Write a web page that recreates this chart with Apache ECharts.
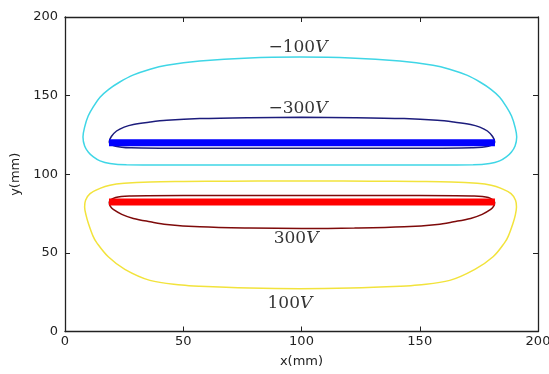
<!DOCTYPE html>
<html>
<head>
<meta charset="utf-8">
<script src="https://cdn.jsdelivr.net/npm/echarts@6/dist/echarts.min.js"></script>
<style>
html,body{margin:0;padding:0;background:#fff;overflow:hidden;}
#c{width:549px;height:374px;}
</style>
</head>
<body>
<div id="c"></div>
<script>
// Axis ticks
var xTicks = [0, 50, 100, 150, 200];
var yTicks = [0, 50, 100, 150, 200];

// Contour -100 V (cyan)
var contourM100 = [[99.3,105.9],[70,105.9],[40,105.9],[26,106],[19,106.8],[14.8,108.5],[12,111],[9.9,114],[8.3,118],[7.6,123.7],[8.3,130],[9.8,137],[12,143],[14.8,149],[18.5,154],[23,158.5],[28.7,163],[36,166.8],[43,169.3],[57,172],[78,174],[99.3,174.5],[120.6,174],[141.6,172],[155.6,169.3],[162.6,166.8],[169.9,163],[175.6,158.5],[180.1,154],[183.8,149],[186.6,143],[188.8,137],[190.3,130],[191,123.7],[190.3,118],[188.7,114],[186.6,111],[183.8,108.5],[179.6,106.8],[172.6,106],[158.6,105.9],[128.6,105.9],[99.3,105.9]];
// Contour -300 V (navy)
var contourM300 = [[100,116.5],[50,116.5],[28,116.8],[21.4,117.8],[18.7,120.5],[19.6,124],[21.8,127.5],[25,130],[28.9,131.7],[36,133.2],[43,134.3],[57,135.4],[78,136],[100,136.2],[122.4,136],[143.4,135.4],[157.4,134.3],[164.4,133.2],[171.5,131.7],[175.4,130],[178.6,127.5],[180.8,124],[181.7,120.5],[179,117.8],[172,116.8],[150,116.5],[100,116.5]];
// Contour 100 V (yellow)
var contourP100 = [[99.3,95.7],[70,95.6],[50,95.4],[36,95.1],[25,94.2],[19,93],[14.8,91],[10.6,87.7],[8.7,83.5],[8.3,79.2],[8.9,74],[9.9,68.7],[11.9,60.5],[13.4,56.5],[18.3,47.5],[25.3,39.5],[35.9,32.5],[49.3,29.5],[57,28.7],[78,27.6],[99.3,27.2],[120.6,27.6],[141.6,28.7],[149.3,29.5],[162.7,32.5],[173.3,39.5],[181,47.5],[185.9,56.5],[187.4,60.5],[189.4,68.7],[190.4,74],[190.9,79.2],[190.5,83.5],[188.6,87.7],[184.4,91],[180.2,93],[174.3,94.2],[163.3,95.1],[149.3,95.4],[129.3,95.6],[99.3,95.7]];
// Contour 300 V (dark red)
var contourP300 = [[100,86.5],[50,86.5],[28,86.2],[21.4,85.2],[18.7,82],[19.2,79.5],[20.4,77.6],[24,74.5],[28.9,71.9],[36,69.8],[43,68.1],[57,66.6],[78,65.8],[100,65.5],[122.4,65.8],[143.4,66.6],[157.4,68.1],[164.4,69.8],[171.5,71.9],[176.4,74.5],[180,77.6],[181.2,79.5],[181.7,82],[179,85.2],[172,86.2],[150,86.5],[100,86.5]];
// Electrodes
var electrodeNeg = [[18.6,120],[181.8,120]];
var electrodePos = [[18.6,82.4],[181.8,82.4]];
// Contour labels
var labelNums = ['\u2212100', '\u2212300', '300', '100'];
var labelX = [98.5, 98.5, 97.7, 95.1];
var labelY = [180.4, 141.7, 59.2, 17.9];

var labelData = labelNums.map(function (t, i) { return [labelX[i], labelY[i], t]; });

var chart = echarts.init(document.getElementById('c'));
var axisLine = { show: true, onZero: false, lineStyle: { color: '#222', width: 1.3 } };
var tick = { show: true, inside: true, length: 5, lineStyle: { color: '#222', width: 1 } };
var lblFont = { color: '#222', fontFamily: 'DejaVu Sans', fontSize: 13 };

function contour(data, color) {
  return { type: 'line', data: data, smooth: 0.35, symbol: 'none', silent: true,
    lineStyle: { color: color, width: 1.5 }, z: 2 };
}

chart.setOption({
  animation: false,
  grid: { left: 65, right: 11, top: 17, bottom: 42.5, containLabel: false, outerBoundsMode: 'none' },
  xAxis: [
    { type: 'value', min: 0, max: 200, interval: 50, position: 'bottom',
      name: 'x(mm)', nameLocation: 'middle', nameGap: 24,
      nameTextStyle: { color: '#222', fontFamily: 'DejaVu Sans', fontSize: 13 },
      axisLine: axisLine, axisTick: tick, splitLine: { show: false },
      axisLabel: Object.assign({ margin: 4 }, lblFont) },
    { type: 'value', min: 0, max: 200, interval: 50, position: 'top',
      axisLine: axisLine, axisTick: tick, splitLine: { show: false },
      axisLabel: { show: false } }
  ],
  yAxis: [
    { type: 'value', min: 0, max: 200, interval: 50, position: 'left',
      name: 'y(mm)', nameLocation: 'middle', nameGap: 38,
      nameTextStyle: { color: '#222', fontFamily: 'DejaVu Sans', fontSize: 13 },
      axisLine: axisLine, axisTick: tick, splitLine: { show: false },
      axisLabel: Object.assign({ margin: 7 }, lblFont) },
    { type: 'value', min: 0, max: 200, interval: 50, position: 'right',
      axisLine: axisLine, axisTick: tick, splitLine: { show: false },
      axisLabel: { show: false } }
  ],
  series: [
    contour(contourM100, '#3fd6e6'),
    contour(contourM300, '#1c1c7c'),
    contour(contourP100, '#f2e33c'),
    contour(contourP300, '#7e0a0a'),
    { type: 'line', data: electrodeNeg, symbol: 'none', silent: true, z: 3,
      lineStyle: { color: '#0000ff', width: 7, cap: 'butt' } },
    { type: 'line', data: electrodePos, symbol: 'none', silent: true, z: 3,
      lineStyle: { color: '#ff0000', width: 7, cap: 'butt' } },
    { type: 'scatter', data: labelData, symbolSize: 0, silent: true, z: 4,
      label: { show: true, position: 'inside',
        formatter: function (p) { return '{n|' + p.value[2] + '}{v|V}'; },
        rich: {
          n: { fontFamily: 'DejaVu Serif', fontSize: 17, color: '#000' },
          v: { fontFamily: 'DejaVu Serif', fontStyle: 'italic', fontSize: 17, color: '#000' }
        } } }
  ]
});
</script>
</body>
</html>
